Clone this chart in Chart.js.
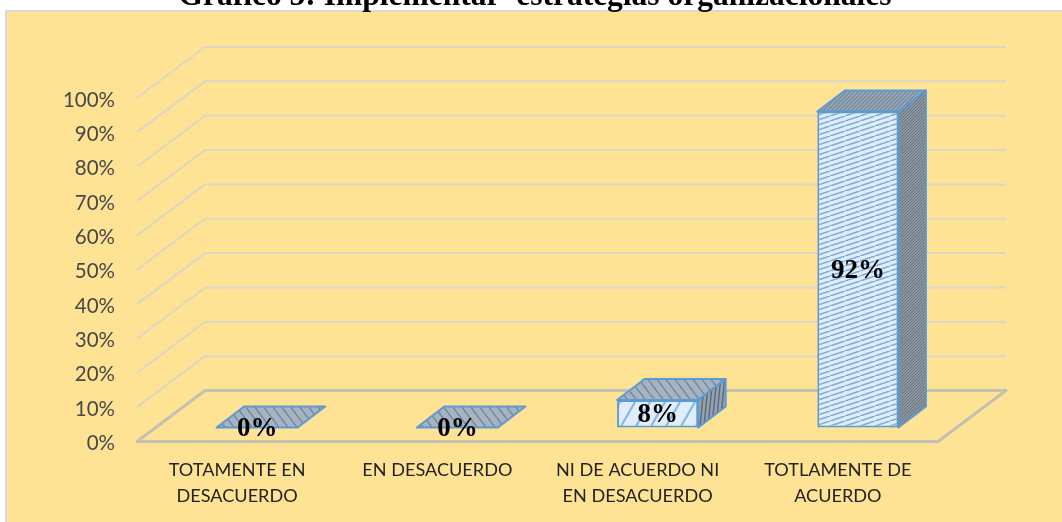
<!DOCTYPE html>
<html><head><meta charset="utf-8">
<style>html,body{margin:0;padding:0;background:#fff;overflow:hidden}canvas{display:block}</style>
<script src="https://cdn.jsdelivr.net/npm/chart.js@4/dist/chart.umd.min.js"></script>
</head><body><canvas id="c" width="1062" height="522"></canvas>
<script>
const categories = [["TOTAMENTE EN","DESACUERDO"],["EN DESACUERDO"],["NI DE ACUERDO NI","EN DESACUERDO"],["TOTLAMENTE DE","ACUERDO"]];
const values = [0, 0, 0.08, 0.92];
const dataLabels = ["0%","0%","8%","92%"];
const chartTitle = "Gráfico 5: Implementar  estrategias organizacionales";

const WALL = {dx:68, dy:-51}, FLOOR_SHIFT = {dx:20, dy:-14}, BAR_DEPTH = {dx:27.5, dy:-21};

function hatch(bg, line, w, h, lw, flip){
  const p = document.createElement('canvas'); p.width = w; p.height = h;
  const g = p.getContext('2d');
  g.fillStyle = bg; g.fillRect(0,0,w,h);
  g.strokeStyle = line; g.lineWidth = lw;
  if(flip){ g.translate(w,0); g.scale(-1,1); }
  g.beginPath();
  [-w,0,w].forEach(d=>{ g.moveTo(d,h); g.lineTo(d+w,0); });
  g.stroke();
  return g.createPattern(p,'repeat');
}
const ctx0 = document.getElementById('c').getContext('2d');
const shallowFront = hatch('#e0edfa','#7cabdd',15,5,1.6);
const steepFront = hatch('#e0edfa','#8ab8e6',15,26,2.2);
const wavyTop = hatch('#a9b3be','#6d8cad',9,12,1.6,true);
const dotTop = hatch('#98a6b5','#71869e',4,4,1.2);
const dotSide = hatch('#8d97a2','#66727f',3,3,1);
const lineSide = hatch('#97a2ad','#56697e',4,40,1.4);
const frontPats = [shallowFront, shallowFront, steepFront, shallowFront];
const topPats = [wavyTop, wavyTop, wavyTop, dotTop];
const sidePats = [dotSide, dotSide, lineSide, dotSide];

const scene = {
  id:'scene',
  beforeDraw(c){
    const g=c.ctx; g.save();
    g.fillStyle='#fff'; g.fillRect(0,0,c.width,c.height);
    g.fillStyle='#ffe395'; g.fillRect(6,11,1056,511);
    g.strokeStyle='#d9d9d9'; g.lineWidth=2;
    g.beginPath(); g.moveTo(6,522); g.lineTo(6,11); g.lineTo(1062,11); g.stroke();
    g.fillStyle='#000'; g.font='bold 31.5px "Liberation Serif"'; g.textAlign='center'; g.textBaseline='alphabetic';
    g.fillText(chartTitle,535,4.5);
    g.restore();
    const s=c.scales.y;
    if(!s._nudged){ s._nudged=true; const o=s.drawLabels;
      s.drawLabels=function(a){ g.save(); g.translate(0,2); o.call(this,a); g.restore(); }; }
  },
  beforeDatasetsDraw(c){
    const g=c.ctx, y=c.scales.y, a=c.chartArea;
    g.save();
    g.lineWidth=2; g.strokeStyle='#dcd7c4'; g.lineJoin='round';
    y.ticks.forEach(t=>{
      if(t.value===0) return;
      const p=y.getPixelForValue(t.value);
      g.beginPath(); g.moveTo(a.left,p); g.lineTo(a.left+WALL.dx,p+WALL.dy); g.lineTo(a.right+WALL.dx,p+WALL.dy); g.stroke();
    });
    const p0=y.getPixelForValue(0);
    g.lineWidth=3; g.strokeStyle='#c4c0b2';
    g.beginPath(); g.moveTo(a.left,p0); g.lineTo(a.right,p0); g.lineTo(a.right+WALL.dx,p0+WALL.dy);
    g.lineTo(a.left+WALL.dx,p0+WALL.dy); g.closePath(); g.stroke();
    g.restore();
    g.save(); g.translate(FLOOR_SHIFT.dx,FLOOR_SHIFT.dy);
  },
  afterDatasetsDraw(c){
    const g=c.ctx, bars=c.getDatasetMeta(0).data;
    g.strokeStyle='#5b9bd5'; g.lineWidth=2; g.lineJoin='round';
    bars.forEach((b,i)=>{
      const l=b.x-b.width/2, r=b.x+b.width/2, t=b.y, bt=b.base, d=BAR_DEPTH;
      g.fillStyle=topPats[i]; g.beginPath();
      g.moveTo(l,t); g.lineTo(l+d.dx,t+d.dy); g.lineTo(r+d.dx,t+d.dy); g.lineTo(r,t); g.closePath(); g.fill(); g.stroke();
      if(bt-t>1){
        g.fillStyle=sidePats[i]; g.beginPath();
        g.moveTo(r,t); g.lineTo(r+d.dx,t+d.dy); g.lineTo(r+d.dx,bt+d.dy); g.lineTo(r,bt); g.closePath(); g.fill(); g.stroke();
      }
    });
    g.fillStyle='#000'; g.font='bold 27px "Liberation Serif"'; g.textAlign='center'; g.textBaseline='middle';
    bars.forEach((b,i)=>g.fillText(dataLabels[i],b.x,(b.y+b.base)/2+1.5));
    g.restore();
  }
};

new Chart(ctx0,{
  type:'bar',
  data:{labels:categories,datasets:[{data:values,backgroundColor:frontPats,borderColor:'#5b9bd5',borderWidth:2,borderSkipped:false,barPercentage:0.405,categoryPercentage:1,clip:false}]},
  options:{
    responsive:false,animation:false,
    layout:{padding:{top:98,right:124,left:0,bottom:0}},
    plugins:{legend:{display:false},tooltip:{enabled:false},title:{display:false}},
    scales:{
      x:{grid:{display:false,drawTicks:false},border:{display:false},
         afterFit(s){s.height=80.5;},
         ticks:{color:'#222222',font:{family:'Lato',size:18.1,lineHeight:1.43},padding:16,maxRotation:0,minRotation:0,autoSkip:false}},
      y:{min:0,max:1,grid:{display:false,drawTicks:false},border:{display:false},
         afterFit(s){s.width=137;},
         ticks:{stepSize:0.1,color:'#484848',font:{family:'Lato',size:20.5},padding:22,autoSkip:false,callback:v=>Math.round(v*100)+'%'}}
    }
  },
  plugins:[scene]
});
</script></body></html>
